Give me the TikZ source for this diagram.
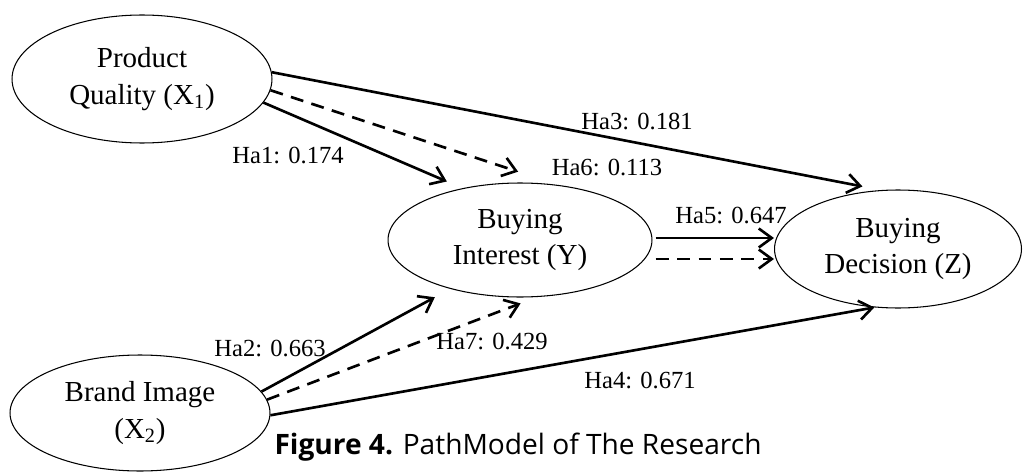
\documentclass[tikz,border=0pt]{standalone}
\usepackage{fontspec}
\setmainfont{Liberation Serif}
\newfontfamily\capfont{Open Sans}
\usetikzlibrary{shapes.geometric,arrows.meta}

\tikzset{Construct/.style={draw,black,ellipse,line width=0.6pt,inner sep=0pt,align=center,font=\fontsize{16.5}{21}\selectfont}}
\tikzset{Direct/.style={draw,black,line width=1.5pt,-{Straight Barb[length=0.26cm,width=0.38cm]}}}
\tikzset{Indirect/.style={Direct,dash pattern=on 0.26cm off 0.17cm}}
\tikzset{Coef/.style={inner sep=0pt,font=\fontsize{14}{16}\selectfont}}

\begin{document}
\begin{tikzpicture}[x=0.02cm,y=-0.02cm]
\useasboundingbox (0,0) rectangle (1024,473);

\node[Construct,minimum width=5.2cm,minimum height=2.56cm] (PQ) at (142,79) {Product\\Quality (X\textsubscript{1})};
\node[Construct,minimum width=5.28cm,minimum height=2.28cm] (BI) at (520,240) {Buying\\Interest (Y)};
\node[Construct,minimum width=4.94cm,minimum height=2.36cm] (BD) at (898,249) {Buying\\Decision (Z)};
\node[Construct,minimum width=5.2cm,minimum height=2.32cm] (BR) at (140,413) {Brand Image\\(X\textsubscript{2})};

% paths from Product Quality
\draw[Direct,shorten >=0.38cm] (PQ.3) -- (BD.106);
\draw[Indirect,shorten >=0.85cm] (PQ.-5) -- (BI.55);
\draw[Direct,shorten >=0.34cm] (PQ.-11) -- (BI.138);

% paths from Buying Interest
\coordinate (S5) at ([xshift=0.06cm,yshift=0.04cm]BI.east);
\coordinate (S5d) at ([xshift=0.06cm,yshift=-0.38cm]BI.east);
\draw[Direct] (S5) -- (S5 -| BD.west);
\draw[Indirect] (S5d) -- (S5d -| BD.west);

% paths from Brand Image
\draw[Direct,shorten >=0.35cm] (BR.10) -- (BI.-145);
\draw[Indirect,shorten >=0.36cm] (BR.6) -- (BI.-73);
\draw[Direct] (BR.-1) -- (BD.-112);

\node[Coef] (ha3) at (637,121) {Ha3: 0.181};
\node[Coef] (ha1) at (288,155) {Ha1: 0.174};
\node[Coef] (ha6) at (607,167) {Ha6: 0.113};
\node[Coef] (ha5) at (731,215) {Ha5: 0.647};
\node[Coef] (ha2) at (270,348) {Ha2: 0.663};
\node[Coef] (ha7) at (492,341) {Ha7: 0.429};
\node[Coef] (ha4) at (640,380) {Ha4: 0.671};

\node[inner sep=0pt,font=\capfont\fontsize{16}{19}\selectfont] (cap) at (518,447) {\textbf{Figure 4.} PathModel of The Research};

\end{tikzpicture}
\end{document}
